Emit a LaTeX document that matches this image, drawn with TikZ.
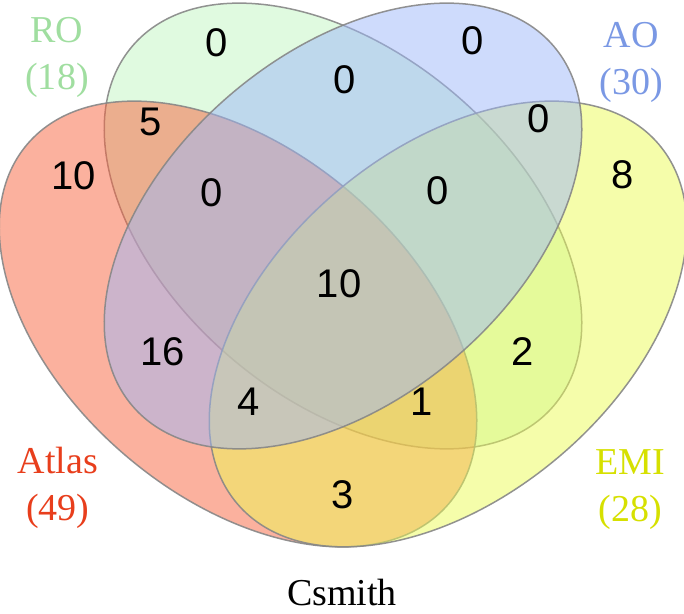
\documentclass[tikz,border=0pt]{standalone}
\usepackage{fontspec}
\setmainfont{Liberation Serif}
\newfontfamily\numfont{Liberation Sans}

% fill colours of the four sets (blended at half opacity)
\definecolor{rofill}{RGB}{193,245,193}
\definecolor{atlasfill}{RGB}{248,100,62}
\definecolor{emifill}{RGB}{235,251,85}
\definecolor{aofill}{RGB}{157,183,249}
\definecolor{outline}{RGB}{135,135,135}
% label colours
\definecolor{atlascol}{RGB}{232,62,28}
\definecolor{rocol}{RGB}{160,222,160}
\definecolor{aocol}{RGB}{122,152,228}
\definecolor{emicol}{RGB}{214,224,0}

\begin{document}
\begin{tikzpicture}[x=1pt,y=1pt]
\tikzset{
  setshape/.style={fill=#1, fill opacity=0.5, draw=outline, draw opacity=0.9, line width=1.5pt},
  count/.style={font=\numfont\fontsize{40}{40}\selectfont, inner sep=0pt, text=black},
  setlabel/.style={font=\fontsize{38}{47}\selectfont, align=center, text=#1, inner sep=0pt, anchor=north},
}
\useasboundingbox (0,0) rectangle (684,613);

% the four sets: RO, Atlas, EMI, AO
\draw[setshape=rofill, rotate around={-40.5:(343,387)}]
  (343,387) ellipse [x radius=277pt, y radius=173pt];
\draw[setshape=atlasfill, rotate around={-40.5:(238,289)}]
  (238,289) ellipse [x radius=277pt, y radius=173pt];
\draw[setshape=emifill, rotate around={40.5:(448,289)}]
  (448,289) ellipse [x radius=277pt, y radius=173pt];
\draw[setshape=aofill, rotate around={40.5:(343,387)}]
  (343,387) ellipse [x radius=277pt, y radius=173pt];

% region counts
\node[count] (nG)    at (217,570) {0};
\node[count] (nGB)   at (345,533) {0};
\node[count] (nB)    at (473,572) {0};
\node[count] (nRG)   at (151,491) {5};
\node[count] (nR)    at (74,437)  {10};
\node[count] (nRGB)  at (212,420) {0};
\node[count] (nBY)   at (539,494) {0};
\node[count] (nY)    at (623,438) {8};
\node[count] (nGBY)  at (438,422) {0};
\node[count] (nAll)  at (339,329) {10};
\node[count] (nRB)   at (163,261) {16};
\node[count] (nRBY)  at (249,211) {4};
\node[count] (nGY)   at (523,261) {2};
\node[count] (nRGY)  at (422,211) {1};
\node[count] (nRY)   at (343,118) {3};

% set names with sizes
\node[setlabel=rocol]    (lRO)    at (57,596)  {RO\\(18)};
\node[setlabel=aocol]    (lAO)    at (631,591) {AO\\(30)};
\node[setlabel=atlascol] (lAtlas) at (58,166)  {Atlas\\(49)};
\node[setlabel=emicol]   (lEMI)   at (630,164) {EMI\\(28)};

% title
\node[font=\fontsize{38}{38}\selectfont, inner sep=0pt, anchor=base] (title) at (342,8) {Csmith};
\end{tikzpicture}
\end{document}
